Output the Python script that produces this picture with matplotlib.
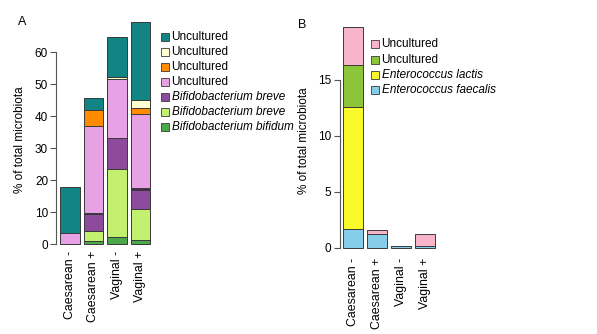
import matplotlib
matplotlib.use("Agg")
import matplotlib.pyplot as plt
from matplotlib.patches import Rectangle
import numpy as np

plt.rcParams['font.family'] = ['Liberation Sans', 'DejaVu Sans']

categories = ["Caesarean -", "Caesarean +", "Vaginal -", "Vaginal +"]

# Panel A (stacked bottom -> top)
a_bifidum = [0.0, 1.0, 2.2, 1.2]
a_breve_light = [0.0, 3.0, 21.1, 9.8]
a_breve_purple = [0.0, 5.3, 9.7, 6.0]
a_minor = [0.0, 0.5, 0.0, 0.4]
a_unc_pink = [3.3, 27.0, 18.5, 23.2]
a_unc_orange = [0.0, 5.0, 0.0, 1.8]
a_unc_cream = [0.0, 0.0, 0.7, 2.6]
a_unc_teal = [14.4, 3.7, 12.6, 24.4]

# Panel B (stacked bottom -> top)
b_faecalis = [1.7, 1.2, 0.15, 0.12]
b_lactis = [10.9, 0.0, 0.0, 0.0]
b_unc_green = [3.7, 0.0, 0.0, 0.0]
b_unc_pink = [3.4, 0.38, 0.0, 1.08]

a_series = [
    (a_bifidum, "#4aa84a", "Bifidobacterium bifidum", True),
    (a_breve_light, "#c4f070", "Bifidobacterium breve", True),
    (a_breve_purple, "#8e4a9c", "Bifidobacterium breve", True),
    (a_minor, "#4a2a55", None, False),
    (a_unc_pink, "#e6a2e4", "Uncultured", False),
    (a_unc_orange, "#ff8c00", "Uncultured", False),
    (a_unc_cream, "#ffffd2", "Uncultured", False),
    (a_unc_teal, "#128484", "Uncultured", False),
]
b_series = [
    (b_faecalis, "#86cdea", "Enterococcus faecalis", True),
    (b_lactis, "#f8f82a", "Enterococcus lactis", True),
    (b_unc_green, "#8cc43a", "Uncultured", False),
    (b_unc_pink, "#f8b4c8", "Uncultured", False),
]

W, H = 597, 334
fig = plt.figure(figsize=(W / 100, H / 100), dpi=100)

x = np.array([0.7, 1.9, 3.1, 4.3])
FS = 8.5
FSX = 8.9


def draw(ax, series, yticks, ylim, xpad):
    bottom = np.zeros(len(categories))
    for vals, col, lab, it in series:
        v = np.array(vals)
        ax.bar(x, v, width=1.0, bottom=bottom, color=col, edgecolor="#3a3a3a",
               linewidth=0.7, zorder=2)
        bottom += v
    ax.set_xlim(0.016, 4.984)
    ax.set_ylim(*ylim)
    for s in ["top", "right", "bottom"]:
        ax.spines[s].set_visible(False)
    ax.spines["left"].set_bounds(yticks[0], yticks[-1])
    ax.spines["left"].set_color("#555555")
    ax.spines["left"].set_linewidth(0.8)
    ax.set_yticks(yticks)
    ax.tick_params(axis="y", length=4, width=0.8, color="#555555", pad=2, labelsize=FS)
    ax.set_xticks(x)
    ax.set_xticklabels(categories, rotation=90, fontsize=FSX)
    ax.tick_params(axis="x", length=0, pad=xpad)
    ax.set_ylabel("% of total microbiota", fontsize=FS)


axA = fig.add_axes([56.4 / W, (H - 252.9) / H, 97.4 / W, 239.9 / H])
draw(axA, a_series, [0, 10, 20, 30, 40, 50, 60], (-2.78, 72.2), -1.8)
axA.yaxis.set_label_coords(26 / W, 1 - 140 / H, transform=fig.transFigure)

axB = fig.add_axes([339.6 / W, (H - 256.5) / H, 99.4 / W, 238.4 / H])
draw(axB, b_series, [0, 5, 10, 15], (-0.79, 20.5), 1.0)
axB.yaxis.set_label_coords(310 / W, 1 - 141 / H, transform=fig.transFigure)

fig.text(22 / W, 1 - 22 / H, "A", fontsize=9, ha="center", va="center")
fig.text(302 / W, 1 - 25 / H, "B", fontsize=9, ha="center", va="center")


def legend(entries, sx, ys):
    for (col, lab, it), yc in zip(entries, ys):
        fig.patches.append(Rectangle(((sx) / W, 1 - (yc + 4) / H), 8 / W, 8 / H,
                                     transform=fig.transFigure, facecolor=col,
                                     edgecolor="#3a3a3a", linewidth=0.6))
        fig.text((sx + 11) / W, 1 - yc / H, lab, fontsize=FS, va="center", ha="left",
                 style="italic" if it else "normal")


legA = [(c, l, i) for (_, c, l, i) in a_series if l is not None][::-1]
legend(legA, 160.5, [37, 52, 67, 82, 97, 112, 127])
legB = [(c, l, i) for (_, c, l, i) in b_series][::-1]
legend(legB, 370.5, [44, 60, 75, 90])

fig.savefig("out.png", dpi=100)
